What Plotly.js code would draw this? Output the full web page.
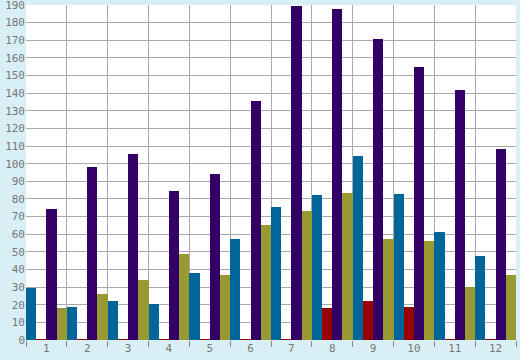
<!DOCTYPE html>
<html>
<head>
<meta charset="utf-8">
<script src="https://cdn.plot.ly/plotly-3.0.1.min.js"></script>
<style>html,body{margin:0;padding:0;background:#d9eff6;}#chart{width:520px;height:360px;}</style>
</head>
<body>
<div id="chart"></div>
<script>
const categories = ["1","2","3","4","5","6","7","8","9","10","11","12"];
const seriesBlue   = [29.5, 18.7, 22.1, 20.4, 37.9, 57.1, 75.3, 82.1, 104.3, 82.6, 61.1, 47.5];
const seriesRed    = [0.7, 0.7, 0.7, 0.7, 0.7, 0.7, 0.7, 18.1, 22.1, 18.7, 0.7, 0.7];
const seriesPurple = [74.1, 97.9, 105.3, 84.3, 93.9, 135.3, 189.5, 187.9, 170.8, 155.1, 142.0, 108.2];
const seriesOlive  = [18.1, 26.0, 34.0, 49.0, 36.8, 65.1, 73.0, 83.2, 57.2, 56.0, 30.0, 36.8];
const yTicks = [0,10,20,30,40,50,60,70,80,90,100,110,120,130,140,150,160,170,180,190];

const colors = ["#006699", "#990000", "#330066", "#999933"];
const allSeries = [seriesBlue, seriesRed, seriesPurple, seriesOlive];
const traces = allSeries.map((s, i) => ({
  type: "bar",
  x: categories,
  y: s,
  marker: {color: colors[i], line: {width: 0}},
  hoverinfo: "none"
}));

const tickFont = {family: "DejaVu Sans Mono", size: 11, color: "#777777"};
const layout = {
  width: 520, height: 360,
  margin: {l: 26, r: 4, t: 5, b: 20},
  paper_bgcolor: "#d9eff6",
  plot_bgcolor: "#ffffff",
  showlegend: false,
  barmode: "group",
  bargap: 0,
  bargroupgap: 0,
  xaxis: {
    type: "category",
    tickson: "boundaries",
    ticks: "outside",
    ticklen: 6,
    tickcolor: "#888888",
    showgrid: true,
    gridcolor: "#aaaaaa",
    gridwidth: 1,
    tickfont: tickFont,
    showline: false,
    zeroline: false,
    fixedrange: true
  },
  yaxis: {
    range: [0, 190],
    tickvals: yTicks,
    ticktext: yTicks.map(String),
    ticks: "",
    ticklabeloverflow: "allow",
    showgrid: true,
    gridcolor: "#aaaaaa",
    gridwidth: 1,
    zeroline: false,
    tickfont: tickFont,
    showline: false,
    fixedrange: true
  }
};
Plotly.newPlot("chart", traces, layout, {displayModeBar: false, staticPlot: true});
</script>
</body>
</html>
